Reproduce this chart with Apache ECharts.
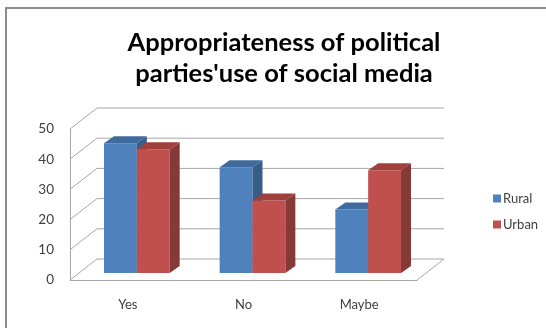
<!DOCTYPE html>
<html>
<head>
<meta charset="utf-8">
<script src="https://cdn.jsdelivr.net/npm/echarts@6/dist/echarts.min.js"></script>
<style>
  html, body { margin: 0; padding: 0; background: #fff; }
  #chart { width: 546px; height: 328px; }
</style>
</head>
<body>
<div id="chart"></div>
<script>
// Survey answers by area
const categories = ['Yes', 'No', 'Maybe'];
const rural = [43, 35, 21];
const urban = [41, 24, 34];
const yTicks = [0, 10, 20, 30, 40, 50];

// Depth of the pseudo-3D box (pixels)
const DX = 27, DY = 21;
// Depth of each bar
const BDX = 10, BDY = 7;

const chart = echarts.init(document.getElementById('chart'), null, { renderer: 'canvas' });

function wallItem(params, api) {
  const cs = params.coordSys;
  const v = api.value(1);
  const y = api.coord([0, v])[1];
  const left = cs.x, right = cs.x + cs.width;
  const lineStyle = { stroke: '#a6a6a6', lineWidth: 1 };
  const children = [
    { type: 'line', shape: { x1: left, y1: y, x2: left + DX, y2: y - DY }, style: lineStyle },
    { type: 'line', shape: { x1: left + DX, y1: y - DY, x2: right + DX, y2: y - DY }, style: lineStyle }
  ];
  if (v === 0) {
    children.push({ type: 'line', shape: { x1: right, y1: y, x2: right + DX, y2: y - DY }, style: lineStyle });
  }
  return { type: 'group', children };
}

function barRenderer(slot, front, top, side) {
  return function (params, api) {
    const i = api.value(0);
    const v = api.value(1);
    const c = api.coord([i, v]);
    const b = api.coord([i, 0]);
    const bandW = api.size([1, 0])[0];
    const bw = bandW * 0.284;
    const x0 = c[0] + DX / 3 - bw + slot * bw;
    const yT = c[1] - DY / 3;
    const yB = b[1] - DY / 3;
    return {
      type: 'group',
      children: [
        { type: 'rect', shape: { x: x0, y: yT, width: bw, height: yB - yT }, style: { fill: front } },
        { type: 'polygon', shape: { points: [[x0, yT], [x0 + bw, yT], [x0 + bw + BDX, yT - BDY], [x0 + BDX, yT - BDY]] }, style: { fill: top } },
        { type: 'polygon', shape: { points: [[x0 + bw, yT], [x0 + bw + BDX, yT - BDY], [x0 + bw + BDX, yB - BDY], [x0 + bw, yB]] }, style: { fill: side } }
      ]
    };
  };
}

const font = 'Lato, "Open Sans", sans-serif';

chart.setOption({
  animation: false,
  backgroundColor: '#ffffff',
  title: {
    text: "Appropriateness of political\nparties'use of social media",
    left: 279,
    top: 22,
    textAlign: 'center',
    textStyle: { fontFamily: font, fontSize: 25.5, fontWeight: 'bold', color: '#000', lineHeight: 31 }
  },
  legend: {
    orient: 'vertical',
    left: 488,
    top: 187,
    itemWidth: 8,
    itemHeight: 8,
    itemGap: 13,
    icon: 'rect',
    data: ['Rural', 'Urban'],
    textStyle: { fontFamily: font, fontSize: 13, color: '#404040', padding: [0, 0, 0, -3] }
  },
  graphic: [
    { type: 'polyline', shape: { points: [[6, 340], [6, 8], [560, 8]] }, style: { stroke: '#8c8c8c', lineWidth: 2, fill: null } }
  ],
  grid: { left: 70, right: 129, top: 129, bottom: 48 },
  xAxis: {
    type: 'category',
    data: categories,
    axisLine: { show: true, lineStyle: { color: '#a6a6a6', width: 1 } },
    axisTick: { show: false },
    axisLabel: { fontFamily: font, fontSize: 13, color: '#404040', margin: 18 },
    splitLine: { show: false }
  },
  yAxis: {
    type: 'value',
    min: 0,
    max: 50,
    interval: 10,
    axisLine: { show: true, lineStyle: { color: '#a6a6a6', width: 1 } },
    axisTick: { show: false },
    axisLabel: { fontFamily: font, fontSize: 13.5, color: '#404040', margin: 16 },
    splitLine: { show: false }
  },
  series: [
    {
      type: 'custom',
      name: 'wall',
      silent: true,
      z: 1,
      clip: false,
      renderItem: wallItem,
      data: yTicks.map(v => [0, v])
    },
    {
      type: 'custom',
      name: 'Rural',
      z: 2,
      clip: false,
      itemStyle: { color: '#4f81bd' },
      renderItem: barRenderer(0, '#4f81bd', '#3f6a9e', '#385d8a'),
      data: rural.map((v, i) => [i, v])
    },
    {
      type: 'custom',
      name: 'Urban',
      z: 3,
      clip: false,
      itemStyle: { color: '#c0504d' },
      renderItem: barRenderer(1, '#c0504d', '#a03f3c', '#853a38'),
      data: urban.map((v, i) => [i, v])
    }
  ]
});
</script>
</body>
</html>
